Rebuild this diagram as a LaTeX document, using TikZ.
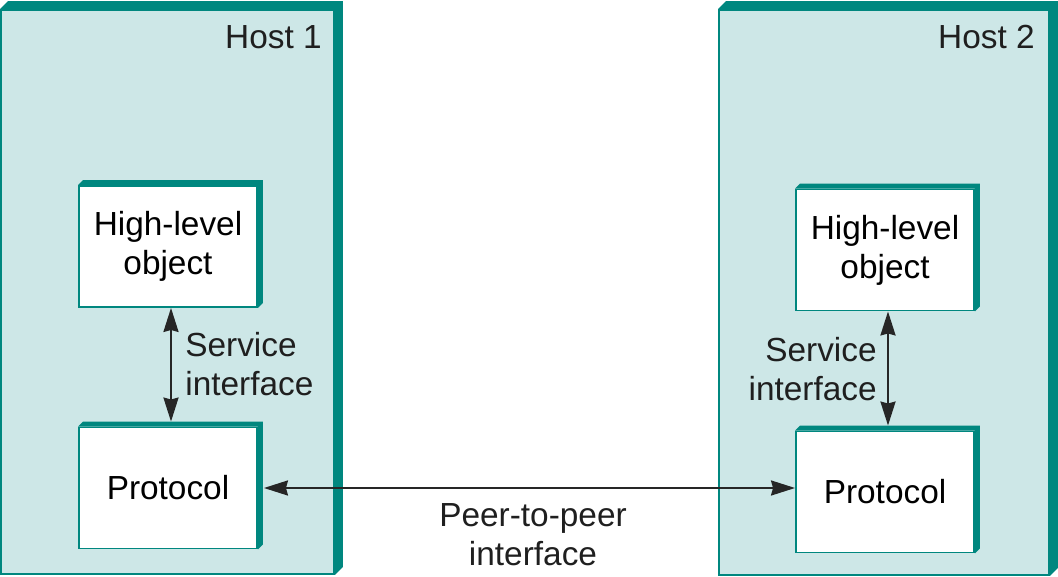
\documentclass[tikz,border=0pt]{standalone}
\usepackage{fontspec}
\setmainfont{Liberation Sans}
\usetikzlibrary{arrows.meta,positioning}

\definecolor{hostteal}{HTML}{00877F}
\definecolor{hostfill}{HTML}{CDE7E7}

\begin{document}
\begin{tikzpicture}[x=0.02cm, y=-0.02cm]
			\tikzset{Host/.style	= {rectangle, draw=hostteal, line width=1.1pt, fill=hostfill, inner sep=0pt},
				Layer/.style	= {rectangle, draw=hostteal, line width=1.1pt, fill=white, inner sep=0pt,
					minimum width=3.56cm, minimum height=2.42cm, align=center, font=\fontsize{19}{22.2}\selectfont},
				Label/.style	= {inner sep=0pt, text=black!88, font=\fontsize{19}{22.2}\selectfont},
				Tip/.tip	= {Stealth[length=0.48cm, width=0.3cm, inset=0.04cm]},
				Link/.style	= {line width=1.3pt, black!85, Tip-Tip}}
			\useasboundingbox (0,0) rectangle (1058,577);

			% hosts
			\node (host1) at (167.5, 292) [Host, minimum width=6.66cm, minimum height=11.28cm] {};
			\node (host2) at (884, 292.5) [Host, minimum width=6.6cm, minimum height=11.3cm] {};
			\foreach \h in {host1, host2}
				\fill [hostteal] (\h.south east) -- ++(8,-8) |- ([shift={(8,-8)}]\h.north west) -- (\h.north west) -| cycle;

			% layers
			\node (obj1)  at (168, 246.5) [Layer] {High-level\\object};
			\node (prot1) at (168, 488)   [Layer] {Protocol};
			\node (obj2)  at (885, 250)   [Layer] {High-level\\object};
			\node (prot2) at (885, 492)   [Layer] {Protocol};
			\foreach \b in {obj1, prot1, obj2, prot2}
				\fill [hostteal] (\b.south east) -- ++(5,-5) |- ([shift={(5,-5)}]\b.north west) -- (\b.north west) -| cycle;

			% labels
			\node (name1) at (322, 37) [Label, anchor=east] {Host 1};
			\node (name2) at (1035, 37) [Label, anchor=east] {Host 2};
			\node (svc1) at (185, 364) [Label, anchor=west, align=left] {Service\\interface};
			\node (svc2) at (877, 369) [Label, anchor=east, align=right] {Service\\interface};
			\node (peer) at (533, 535) [Label, align=center] {Peer-to-peer\\interface};

			% interfaces
			\draw [Link, shorten >=0.1cm] ([xshift=0.06cm]obj1.south) to ([xshift=0.06cm]prot1.north);
			\draw [Link, shorten >=0.1cm] ([xshift=0.06cm]obj2.south) to ([xshift=0.06cm]prot2.north);
			\draw [Link, shorten <=0.12cm] (prot1.east) to (prot2.west |- prot1.east);
		\end{tikzpicture}
\end{document}
